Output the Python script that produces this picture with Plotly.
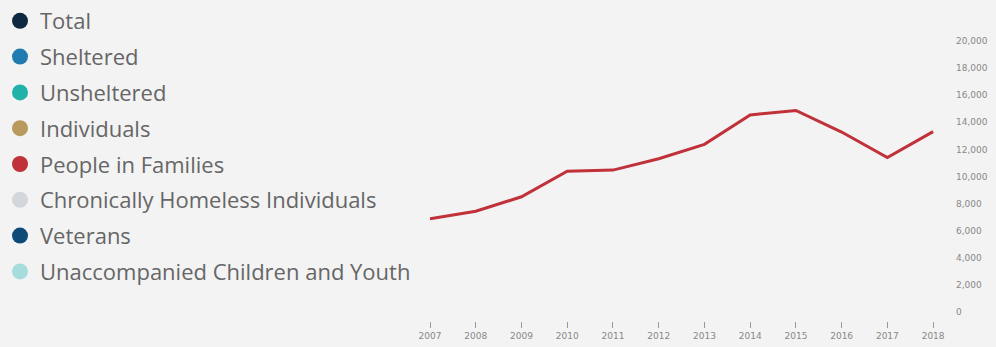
import plotly.graph_objects as go

years = [2007, 2008, 2009, 2010, 2011, 2012, 2013, 2014, 2015, 2016, 2017, 2018]
people_in_families = [6870, 7430, 8500, 10390, 10470, 11310, 12370, 14540, 14870, 13280, 11390, 13310]

series_names = ["Total", "Sheltered", "Unsheltered", "Individuals", "People in Families",
                "Chronically Homeless Individuals", "Veterans", "Unaccompanied Children and Youth"]
series_colors = ["#0d2840", "#1f7bb0", "#20b2a8", "#b89a5e", "#c0313a",
                 "#d3d6da", "#0e4a78", "#a6dcdc"]
series_values = {"People in Families": people_in_families}

y_ticks = list(range(0, 20001, 2000))

fig = go.Figure()
# data lines
for name, color in zip(series_names, series_colors):
    vals = series_values.get(name)
    if vals:
        fig.add_trace(go.Scatter(
            x=years, y=vals, name=name, mode="lines",
            line=dict(color=color, width=3), showlegend=False, hoverinfo="skip",
        ))
# legend entries (circle markers)
for i, (name, color) in enumerate(zip(series_names, series_colors)):
    fig.add_trace(go.Scatter(
        x=[None], y=[None], name=name, mode="markers",
        marker=dict(color=color, size=20), legendgroup=f"g{i}", showlegend=True,
        hoverinfo="skip",
    ))

BG = "#f3f3f3"
fig.update_layout(
    template="none",
    width=996, height=347,
    margin=dict(l=430, r=51, t=41, b=26),
    paper_bgcolor=BG, plot_bgcolor=BG,
    showlegend=True,
    legend=dict(
        xref="container", yref="container", x=0, y=1, xanchor="left", yanchor="top",
        bgcolor="rgba(0,0,0,0)", font=dict(family="Open Sans", size=22, color="#666666"),
        tracegroupgap=4.2, itemsizing="trace", traceorder="grouped", maxheight=400,
    ),
    xaxis=dict(
        range=[2007, 2018.26], tickmode="array", tickvals=years, ticktext=[str(y) for y in years],
        showgrid=False, zeroline=False, showline=False, automargin=False,
        ticks="outside", ticklen=6, tickcolor="#999999", tickwidth=1,
        tickfont=dict(family="DejaVu Sans", size=9, color="#888888"),
    ),
    yaxis=dict(
        range=[-667, 20000], side="right", tickmode="array", tickvals=y_ticks,
        ticktext=[f"{v:,}" for v in y_ticks],
        showgrid=False, zeroline=False, showline=False, ticks="", automargin=False,
        ticklabelstandoff=10,
        tickfont=dict(family="DejaVu Sans", size=9, color="#888888"),
    ),
)

fig.write_html("out.html")
